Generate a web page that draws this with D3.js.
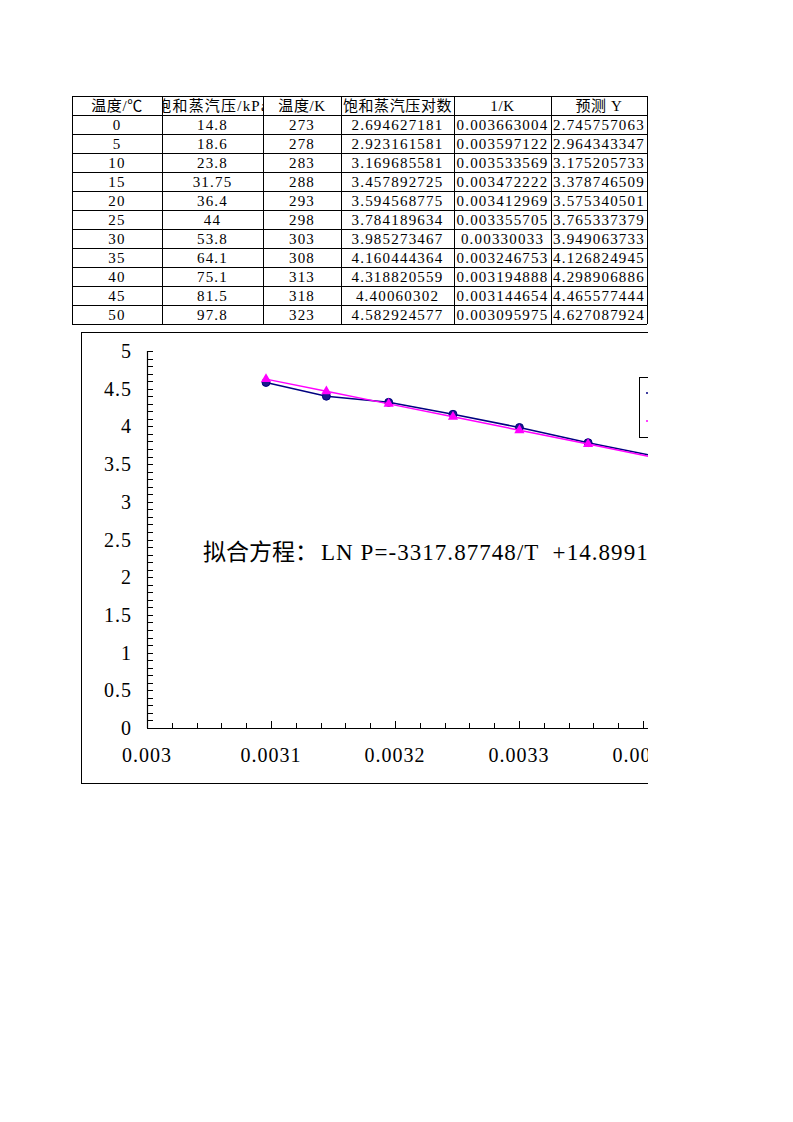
<!DOCTYPE html>
<html><head><meta charset="utf-8">
<script src="https://cdn.jsdelivr.net/npm/d3@7"></script>
<style>body{margin:0;background:#fff}svg{display:block}text{white-space:pre}</style>
</head><body>
<script>
const headers = ["温度/℃","饱和蒸汽压/kPa","温度/K","饱和蒸汽压对数","1/K","预测 Y"];
const tempC = ["0","5","10","15","20","25","30","35","40","45","50"];
const pressure = ["14.8","18.6","23.8","31.75","36.4","44","53.8","64.1","75.1","81.5","97.8"];
const tempK = ["273","278","283","288","293","298","303","308","313","318","323"];
const lnP = ["2.694627181","2.923161581","3.169685581","3.457892725","3.594568775","3.784189634","3.985273467","4.160444364","4.318820559","4.40060302","4.582924577"];
const invK = ["0.003663004","0.003597122","0.003533569","0.003472222","0.003412969","0.003355705","0.00330033","0.003246753","0.003194888","0.003144654","0.003095975"];
const predY = ["2.745757063","2.964343347","3.175205733","3.378746509","3.575340501","3.765337379","3.949063733","4.126824945","4.298906886","4.465577444","4.627087924"];
const xTicks = [0.003,0.0031,0.0032,0.0033,0.0034];
const yTicks = [0,0.5,1,1.5,2,2.5,3,3.5,4,4.5,5];
const equation = ["拟合方程：","LN P=-3317.87748/T  +14.8991"];
const legendNames = ["实验值","预测值"];

const W=793,H=1122, CLIPX=648;
const svg=d3.select("body").append("svg").attr("width",W).attr("height",H);
const defs=svg.append("defs");
defs.append("clipPath").attr("id","page").append("rect").attr("x",0).attr("y",0).attr("width",CLIPX).attr("height",H);
const root=svg.append("g").attr("clip-path","url(#page)");
const FONT="'Liberation Serif','Noto Sans CJK SC',serif";

// ---- table ----
const colX=[72,162,263,341,454,551,647];
const rowTop=96,rowH=19;
const cols=[tempC,pressure,tempK,lnP,invK,predY];
const tbl=root.append("g").attr("font-family",FONT).attr("font-size",15).attr("fill","#000");
const nRows=tempC.length+1;
for(let c=0;c<6;c++){
  const cx0=colX[c],cx1=colX[c+1];
  const cp=defs.append("clipPath").attr("id","col"+c);
  cp.append("rect").attr("x",cx0+1).attr("y",rowTop).attr("width",cx1-cx0-1).attr("height",nRows*rowH);
  const g=tbl.append("g").attr("clip-path","url(#col"+c+")");
  const vals=[headers[c]].concat(cols[c]);
  vals.forEach((v,r)=>{
    g.append("text").attr("x",(cx0+cx1)/2).attr("y",rowTop+r*rowH+rowH/2+5)
     .attr("text-anchor","middle").attr("letter-spacing",r===0?(c===1?1.2:0.6):1.2).text(v);
  });
}
const grid=root.append("g").attr("stroke","#000").attr("stroke-width",1);
for(let r=0;r<=nRows;r++) grid.append("line").attr("x1",colX[0]).attr("x2",colX[6]).attr("y1",rowTop+r*rowH+0.5).attr("y2",rowTop+r*rowH+0.5);
colX.forEach(x=>grid.append("line").attr("x1",x+0.5).attr("x2",x+0.5).attr("y1",rowTop).attr("y2",rowTop+nRows*rowH));

// ---- chart ----
root.append("rect").attr("x",81.5).attr("y",332.5).attr("width",700).attr("height",451).attr("fill","none").attr("stroke","#000");
const x=d3.scaleLinear().domain([0.003,0.0034]).range([147,643]);
const y=d3.scaleLinear().domain([0,5]).range([728,351]);

// y axis
const ya=root.append("g").attr("stroke","#000");
ya.append("line").attr("x1",147.5).attr("x2",147.5).attr("y1",y(5)).attr("y2",y(0)).attr("stroke-width",1.2);
d3.range(0,51).forEach(i=>{const v=i/10;ya.append("line").attr("x1",147).attr("x2",153).attr("y1",Math.round(y(v))+0.5).attr("y2",Math.round(y(v))+0.5);});
root.append("g").attr("font-family",FONT).attr("font-size",20).selectAll("text").data(yTicks).join("text")
  .attr("x",132).attr("y",d=>y(d)+7).attr("text-anchor","end").attr("letter-spacing",1)
  .text(d=>String(d));

// x axis
const xa=root.append("g").attr("stroke","#000");
xa.append("line").attr("x1",147).attr("x2",CLIPX).attr("y1",728.5).attr("y2",728.5).attr("stroke-width",1.2);
d3.range(0,21).forEach(i=>{const v=0.003+i*0.00002;const major=i%5===0;
  xa.append("line").attr("x1",Math.round(x(v))+0.5).attr("x2",Math.round(x(v))+0.5).attr("y1",728).attr("y2",major?721:723);});
root.append("g").attr("font-family",FONT).attr("font-size",20).selectAll("text").data(xTicks).join("text")
  .attr("x",d=>x(d)).attr("y",762).attr("text-anchor","middle").attr("letter-spacing",1)
  .text(d=>String(+d.toPrecision(2)));

// series
const ptsA=invK.map((v,i)=>({x:+v,y:+lnP[i]}));
const ptsB=invK.map((v,i)=>({x:+v,y:+predY[i]}));
const line=d3.line().x(d=>x(d.x)).y(d=>y(d.y));
root.append("path").datum(ptsA).attr("d",line).attr("fill","none").attr("stroke","#000080").attr("stroke-width",1.5);
root.append("g").selectAll("circle").data(ptsA).join("circle").attr("cx",d=>x(d.x)).attr("cy",d=>y(d.y)).attr("r",4)
  .attr("fill","#1a1a8c").attr("stroke","#000080");
root.append("path").datum(ptsB).attr("d",line).attr("fill","none").attr("stroke","#ff00ff").attr("stroke-width",1.5);
const tri=d3.symbol().type(d3.symbolTriangle).size(45);
root.append("g").selectAll("path").data(ptsB).join("path").attr("d",tri)
  .attr("transform",d=>`translate(${x(d.x)},${y(d.y)})`).attr("fill","#ff00ff");

// equation
const eq=root.append("text").attr("x",203).attr("y",560).attr("font-size",23).attr("fill","#000");
eq.append("tspan").attr("font-family","'Noto Sans CJK SC',sans-serif").text(equation[0]);
eq.append("tspan").attr("x",321).attr("font-family","'Liberation Serif',serif").attr("letter-spacing",1.05).text(equation[1]);

// legend
const lg=root.append("g");
lg.append("rect").attr("x",639.5).attr("y",377.5).attr("width",80).attr("height",60).attr("fill","#fff").attr("stroke","#000");
lg.append("line").attr("x1",646).attr("x2",670).attr("y1",393).attr("y2",393).attr("stroke","#000080").attr("stroke-width",1.5);
lg.append("line").attr("x1",646).attr("x2",670).attr("y1",421).attr("y2",421).attr("stroke","#ff00ff").attr("stroke-width",1.5);
lg.append("text").attr("x",675).attr("y",398).attr("font-family",FONT).attr("font-size",14).text(legendNames[0]);
lg.append("text").attr("x",675).attr("y",426).attr("font-family",FONT).attr("font-size",14).text(legendNames[1]);
</script>
</body></html>
